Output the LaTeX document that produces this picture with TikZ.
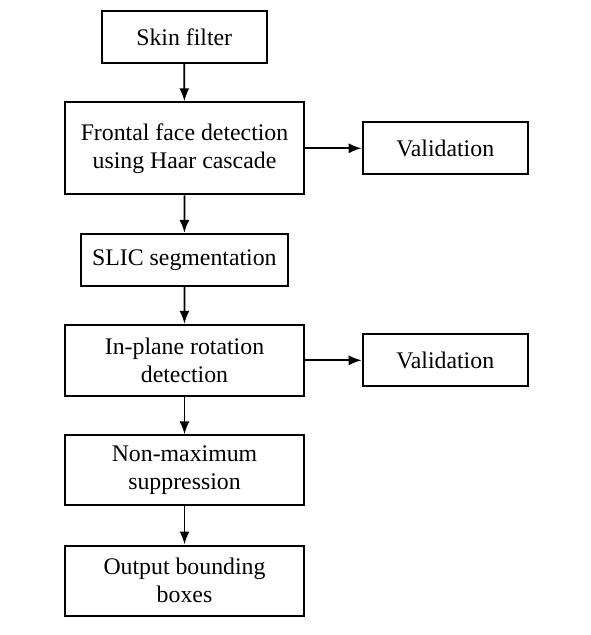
\documentclass[tikz,border=0pt]{standalone}
\usepackage{fontspec}
\setmainfont{Liberation Serif}
\usetikzlibrary{arrows.meta}

\tikzset{
	blk/.style={draw, line width=1pt, align=center, inner sep=0pt,
		font=\fontsize{11.9}{14}\selectfont},
	arr/.style={line width=0.9pt, -{Latex[length=6.5pt,width=5pt]}}
}

\begin{document}
\begin{tikzpicture}[x=0.5pt,y=-0.5pt]
	
		\useasboundingbox (0,0) rectangle (590,635);
		\node[blk, minimum width=82.5pt, minimum height=26pt] (skin) at (184.2,37.2) {Skin filter};
		\node[blk, minimum width=119.5pt, minimum height=46pt] (haar) at (184.5,148.3) {Frontal face detection\\using Haar cascade};
		\node[blk, minimum width=82.5pt, minimum height=26pt] (val1) at (445.2,148.3) {Validation};
		\node[blk, minimum width=103.5pt, minimum height=26pt] (slic) at (184.4,259.9) {SLIC segmentation};
		\node[blk, minimum width=119.5pt, minimum height=35.5pt] (rot) at (184.5,360.3) {In-plane rotation\\detection};
		\node[blk, minimum width=82.5pt, minimum height=26pt] (val2) at (445.2,360.3) {Validation};
		\node[blk, minimum width=119.5pt, minimum height=35pt] (nms) at (184.5,470.3) {Non-maximum\\suppression};
		\node[blk, minimum width=119.5pt, minimum height=35pt] (out) at (184.5,580.5) {Output bounding\\boxes};
		\draw[arr] (skin) -- (haar);
		\draw[arr] (haar) -- (val1);
		\draw[arr] (haar) -- (slic);
		\draw[arr] (slic) -- (rot);
		\draw[arr] (rot) -- (val2);
		\draw[arr] (rot) -- (nms);
		\draw[arr] (nms) -- (out);
	\end{tikzpicture}
\end{document}
